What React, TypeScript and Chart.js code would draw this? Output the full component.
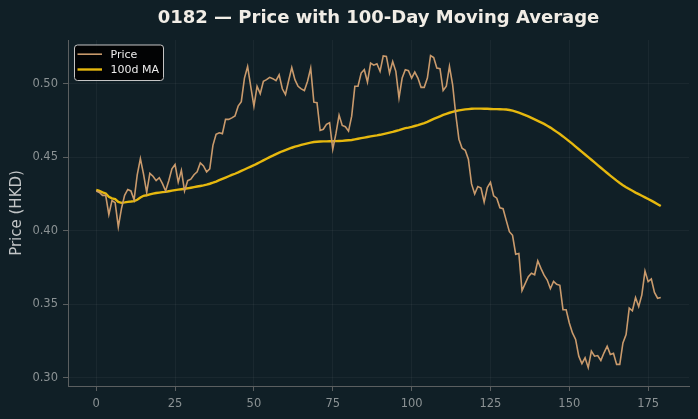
import { useEffect, useRef } from "react";
import { Chart, registerables } from "chart.js";

Chart.register(...registerables);

const chartTitle = "0182 — Price with 100-Day Moving Average";
const yAxisTitle = "Price (HKD)";
const priceLabel = "Price";
const maLabel = "100d MA";

const xTickValues = [0, 25, 50, 75, 100, 125, 150, 175];
const yTickValues = [0.3, 0.35, 0.4, 0.45, 0.5];

// Daily closing price (HKD), one value per trading day
const price = [
  0.427, 0.426, 0.424, 0.424, 0.411, 0.4205, 0.419, 0.4025, 0.415, 0.424,
  0.428, 0.427, 0.421, 0.438, 0.449, 0.4385, 0.426, 0.439, 0.437, 0.434,
  0.436, 0.432, 0.427, 0.434, 0.442, 0.445, 0.433, 0.441, 0.427, 0.434,
  0.435, 0.438, 0.44, 0.446, 0.444, 0.44, 0.442, 0.458, 0.4655, 0.4666,
  0.466, 0.4757, 0.4757, 0.4767, 0.478, 0.4847, 0.4878, 0.5038, 0.5117, 0.498,
  0.4847, 0.4982, 0.4932, 0.5016, 0.5027, 0.5043, 0.5034, 0.502, 0.506, 0.4965,
  0.4926, 0.502, 0.511, 0.5027, 0.4982, 0.4964, 0.4953, 0.5016, 0.5106, 0.4874,
  0.487, 0.4682, 0.469, 0.4723, 0.4734, 0.4554, 0.466, 0.4786, 0.4716, 0.4707,
  0.4677, 0.4779, 0.4982, 0.4982, 0.5072, 0.5095, 0.5011, 0.514, 0.5126, 0.5135,
  0.5084, 0.5189, 0.5185, 0.5072, 0.5151, 0.5084, 0.4903, 0.5038, 0.5095, 0.5088,
  0.5038, 0.5079, 0.5038, 0.4975, 0.4975, 0.5038, 0.5191, 0.5178, 0.5106, 0.5102,
  0.4953, 0.4982, 0.5117, 0.4993, 0.479, 0.4622, 0.4561, 0.4547, 0.4486, 0.4318,
  0.425, 0.43, 0.429, 0.4194, 0.4293, 0.4329, 0.4237, 0.4221, 0.4155, 0.4149,
  0.407, 0.3993, 0.3968, 0.384, 0.3845, 0.3592, 0.364, 0.3687, 0.371, 0.37,
  0.3795, 0.3743, 0.3697, 0.3664, 0.3605, 0.3655, 0.3635, 0.3628, 0.3462, 0.3462,
  0.3372, 0.3304, 0.326, 0.3146, 0.3095, 0.3135, 0.3068, 0.318, 0.3146, 0.315,
  0.3117, 0.3169, 0.3214, 0.3158, 0.3165, 0.309, 0.309, 0.3236, 0.3293, 0.3473,
  0.3455, 0.3545, 0.3484, 0.3563, 0.3725, 0.3653, 0.3671, 0.358, 0.354, 0.3545,
];

// 100-day moving average of the close
const ma100 = [
  0.4277, 0.427, 0.4261, 0.4253, 0.423, 0.422, 0.4215, 0.4195, 0.4189, 0.4192,
  0.4196, 0.4198, 0.4201, 0.421, 0.4225, 0.4237, 0.4241, 0.4247, 0.4252, 0.4256,
  0.4259, 0.4262, 0.4264, 0.4268, 0.4272, 0.4276, 0.4279, 0.4282, 0.4285, 0.4288,
  0.4292, 0.4296, 0.43, 0.4304, 0.4308, 0.4313, 0.4319, 0.4326, 0.4334, 0.4343,
  0.4352, 0.4361, 0.437, 0.4379, 0.4387, 0.4396, 0.4406, 0.4416, 0.4426, 0.4436,
  0.4445, 0.4456, 0.4467, 0.4478, 0.4489, 0.45, 0.451, 0.4521, 0.4531, 0.454,
  0.4548, 0.4556, 0.4564, 0.4571, 0.4577, 0.4583, 0.4589, 0.4594, 0.4599, 0.4603,
  0.4605, 0.4606, 0.4607, 0.4607, 0.4608, 0.4608, 0.4609, 0.461, 0.4611, 0.4613,
  0.4615, 0.4617, 0.4621, 0.4625, 0.4629, 0.4633, 0.4637, 0.4641, 0.4645, 0.4648,
  0.4652, 0.4657, 0.4662, 0.4667, 0.4672, 0.4678, 0.4684, 0.4691, 0.4697, 0.4701,
  0.4706, 0.4712, 0.4718, 0.4725, 0.4732, 0.474, 0.475, 0.476, 0.4769, 0.4778,
  0.4787, 0.4795, 0.4802, 0.4808, 0.4814, 0.4818, 0.4822, 0.4825, 0.4827, 0.4829,
  0.483, 0.483, 0.483, 0.4829, 0.4829, 0.4828, 0.4827, 0.4827, 0.4826, 0.4825,
  0.4824, 0.4821, 0.4816, 0.481, 0.4803, 0.4795, 0.4786, 0.4777, 0.4767, 0.4757,
  0.4747, 0.4737, 0.4726, 0.4714, 0.4701, 0.4687, 0.4672, 0.4657, 0.4641, 0.4624,
  0.4607, 0.459, 0.4572, 0.4554, 0.4536, 0.4518, 0.45, 0.4482, 0.4464, 0.4446,
  0.4428, 0.441, 0.4392, 0.4374, 0.4357, 0.434, 0.4324, 0.4309, 0.4295, 0.4283,
  0.4271, 0.4259, 0.4248, 0.4237, 0.4226, 0.4215, 0.4204, 0.4192, 0.418, 0.4167,
];

const BG = "#101f26";
const PRICE_COLOR = "#c99a6c";
const MA_COLOR = "#e6b80e";
const AXIS_COLOR = "#5b5f60";
const TICK_TEXT = "#8b9294";
const GRID_COLOR = "rgba(255,255,255,0.045)";
const FONT = "'DejaVu Sans', sans-serif";

const background = {
  id: "background",
  beforeDraw(chart: any) {
    const { ctx, width, height } = chart;
    ctx.save();
    ctx.fillStyle = BG;
    ctx.fillRect(0, 0, width, height);
    ctx.restore();
  },
};

// Bold heading centred over the plotting area
const plotTitle = {
  id: "plotTitle",
  afterDraw(chart: any) {
    const { ctx, chartArea } = chart;
    ctx.save();
    ctx.font = `bold 18px ${FONT}`;
    ctx.fillStyle = "#f1ede6";
    ctx.textAlign = "center";
    ctx.textBaseline = "middle";
    ctx.fillText(chartTitle, (chartArea.left + chartArea.right) / 2, 18.5);
    ctx.restore();
  },
};

// Framed legend in the upper-left corner of the plot
const cornerLegend = {
  id: "cornerLegend",
  afterDatasetsDraw(chart: any) {
    const { ctx, chartArea } = chart;
    const x = chartArea.left + 6.5;
    const y = chartArea.top + 5;
    const w = 89;
    const h = 35.5;
    ctx.save();
    ctx.beginPath();
    ctx.roundRect(x, y, w, h, 3);
    ctx.fillStyle = "rgba(0,0,0,0.88)";
    ctx.fill();
    ctx.lineWidth = 1;
    ctx.strokeStyle = "#c4c4c4";
    ctx.stroke();
    ctx.font = `11px ${FONT}`;
    ctx.textBaseline = "middle";
    ctx.textAlign = "left";
    chart.data.datasets.forEach((ds: any, i: number) => {
      const cy = y + 9.2 + i * 15.3;
      ctx.beginPath();
      ctx.moveTo(x + 3, cy);
      ctx.lineTo(x + 27.5, cy);
      ctx.strokeStyle = ds.borderColor;
      ctx.lineWidth = ds.borderWidth;
      ctx.stroke();
      ctx.fillStyle = "#ececec";
      ctx.fillText(ds.label, x + 36, cy + 0.5);
    });
    ctx.restore();
  },
};

export default function App() {
  const canvasRef = useRef<HTMLCanvasElement | null>(null);

  useEffect(() => {
    const canvas = canvasRef.current;
    if (!canvas) return;
    Chart.defaults.font.family = FONT;

    const chart = new Chart(canvas, {
      type: "line",
      data: {
        datasets: [
          {
            label: priceLabel,
            data: price.map((v, i) => ({ x: i, y: v })),
            borderColor: PRICE_COLOR,
            borderWidth: 1.6,
            pointRadius: 0,
            tension: 0,
          },
          {
            label: maLabel,
            data: ma100.map((v, i) => ({ x: i, y: v })),
            borderColor: MA_COLOR,
            borderWidth: 2.4,
            pointRadius: 0,
            tension: 0,
          },
        ],
      },
      options: {
        responsive: false,
        animation: false,
        devicePixelRatio: 1,
        events: [],
        layout: { padding: { left: 0, right: 9, top: 40, bottom: 0 } },
        plugins: {
          legend: { display: false },
          tooltip: { enabled: false },
          title: { display: false },
        },
        scales: {
          x: {
            type: "linear",
            min: -8.95,
            max: 187.95,
            afterBuildTicks: (scale: any) => {
              scale.ticks = xTickValues.map((v) => ({ value: v }));
            },
            afterFit: (scale: any) => {
              scale.height = 33;
            },
            grid: {
              color: GRID_COLOR,
              tickColor: AXIS_COLOR,
              tickLength: 5,
              lineWidth: 1,
            },
            border: { color: AXIS_COLOR, width: 1 },
            ticks: {
              color: TICK_TEXT,
              font: { family: FONT, size: 11.5 },
              padding: 6,
              maxRotation: 0,
              callback: (v: any) => String(v),
            },
          },
          y: {
            type: "linear",
            min: 0.2943,
            max: 0.5297,
            afterBuildTicks: (scale: any) => {
              scale.ticks = yTickValues.map((v) => ({ value: v }));
            },
            afterFit: (scale: any) => {
              scale.width = 68;
            },
            grid: {
              color: GRID_COLOR,
              tickColor: AXIS_COLOR,
              tickLength: 5,
              lineWidth: 1,
            },
            border: { color: AXIS_COLOR, width: 1 },
            ticks: {
              color: TICK_TEXT,
              font: { family: FONT, size: 11.5 },
              padding: 5,
              callback: (v: any) => Number(v).toFixed(2),
            },
            title: {
              display: true,
              text: yAxisTitle,
              color: "#c3c6c7",
              font: { family: FONT, size: 15 },
              padding: { top: 8, bottom: 0 },
            },
          },
        },
      },
      plugins: [background, cornerLegend, plotTitle],
    });

    return () => chart.destroy();
  }, []);

  return (
    <div style={{ position: "fixed", left: 0, top: 0, width: 698, height: 419, background: BG }}>
      <canvas ref={canvasRef} width={698} height={419} style={{ display: "block" }} />
    </div>
  );
}
